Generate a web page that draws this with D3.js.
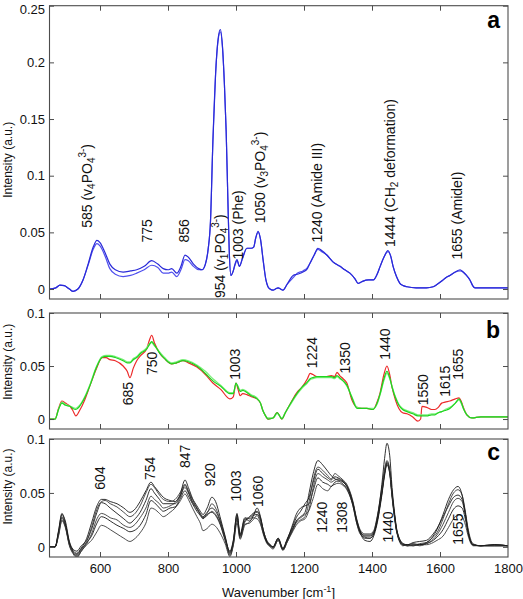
<!DOCTYPE html>
<html><head><meta charset="utf-8">
<script src="https://cdn.jsdelivr.net/npm/d3@7"></script>
<style>body{margin:0;background:#fff}svg{display:block}text{font-family:"Liberation Sans",Arial,sans-serif}</style>
</head><body><svg id="c" width="523" height="599"></svg>
<script>
// ---------- DATA ----------
const xTicks = [600, 800, 1000, 1200, 1400, 1600, 1800];
const yTicksA = [0, 0.05, 0.1, 0.15, 0.2, 0.25];
const yTicksB = [0, 0.05, 0.1];
const yTicksC = [0, 0.05, 0.1];

// Panel a (two blue spectra)
const waveA = [450,470,482,495,510,521,535,550,565,580,591,600,615,629,645,668,690,708,730,752,770,786,800,811,826,838,850,860,875,890,900,910,918,925,932,940,948,954,960,966,971,976,980,985,992,997,1003,1010,1020,1032,1045,1052,1058,1065,1072,1080,1088,1094,1100,1109,1116,1124,1131,1138,1150,1168,1180,1197,1210,1218,1230,1241,1252,1267,1285,1306,1320,1335,1350,1359,1367,1374,1390,1404,1415,1424,1435,1447,1455,1462,1472,1482,1492,1503,1530,1560,1580,1591,1605,1617,1629,1645,1659,1668,1678,1688,1696,1703,1720,1760,1800];
const blueUpper = [0,0.001,0.0035,0.003,0.000,-0.002,0.000,0.008,0.022,0.037,0.043,0.041,0.032,0.022,0.017,0.015,0.016,0.017,0.020,0.025,0.022,0.018,0.017,0.018,0.014,0.020,0.030,0.028,0.022,0.018,0.017,0.022,0.035,0.060,0.130,0.190,0.222,0.229,0.215,0.180,0.140,0.080,0.035,0.012,0.016,0.022,0.026,0.020,0.028,0.036,0.036,0.037,0.045,0.051,0.044,0.025,0.008,0.002,0.000,-0.001,0.000,0.001,0.000,-0.001,0.004,0.012,0.013,0.015,0.018,0.023,0.030,0.036,0.034,0.030,0.024,0.020,0.017,0.014,0.009,0.005,0.006,0.007,0.008,0.008,0.013,0.020,0.028,0.034,0.029,0.020,0.011,0.005,0.003,0.002,0.001,0.001,0.002,0.004,0.007,0.010,0.012,0.015,0.017,0.015,0.012,0.008,0.003,0.001,0.001,0.001,0.001];
const blueLower = [0,0.001,0.0035,0.003,0.000,-0.002,0.000,0.008,0.021,0.035,0.040,0.038,0.029,0.018,0.013,0.011,0.012,0.014,0.017,0.021,0.019,0.014,0.014,0.015,0.011,0.017,0.026,0.025,0.020,0.017,0.017,0.022,0.035,0.060,0.130,0.190,0.221,0.227,0.214,0.180,0.140,0.080,0.035,0.012,0.016,0.021,0.025,0.020,0.028,0.036,0.036,0.037,0.045,0.050,0.044,0.025,0.008,0.002,0.000,-0.001,0.000,0.001,0.000,-0.001,0.004,0.010,0.014,0.016,0.019,0.023,0.030,0.035,0.033,0.030,0.024,0.020,0.017,0.014,0.009,0.005,0.006,0.007,0.008,0.008,0.013,0.020,0.028,0.033,0.029,0.020,0.011,0.005,0.003,0.002,0.001,0.001,0.002,0.004,0.007,0.010,0.012,0.015,0.016,0.015,0.012,0.008,0.003,0.001,0.001,0.001,0.001];

// Panel b (red + two green spectra)
const waveB = [450,468,478,488,498,512,520,529,540,555,571,590,606,618,629,645,668,680,688,698,708,720,737,745,752,760,776,790,811,825,844,860,885,910,932,955,982,992,1000,1006,1012,1020,1032,1045,1062,1072,1079,1087,1094,1109,1121,1135,1145,1159,1179,1194,1210,1218,1226,1238,1252,1267,1280,1290,1297,1305,1315,1326,1341,1356,1370,1385,1403,1415,1424,1435,1444,1452,1459,1469,1479,1490,1503,1520,1535,1543,1547,1561,1575,1585,1595,1605,1615,1629,1645,1656,1662,1670,1679,1694,1720,1750,1780,1800];
const redB = [0,0,0.010,0.017,0.015,0.012,0.008,0.003,0.008,0.018,0.032,0.048,0.058,0.058,0.056,0.055,0.050,0.045,0.039,0.048,0.055,0.060,0.066,0.074,0.079,0.072,0.062,0.057,0.052,0.053,0.055,0.053,0.049,0.042,0.034,0.028,0.019,0.021,0.034,0.028,0.022,0.024,0.023,0.021,0.019,0.015,0.008,0.003,0.000,0.001,0.006,0.000,0.006,0.014,0.025,0.030,0.038,0.043,0.042,0.040,0.040,0.040,0.041,0.040,0.044,0.041,0.038,0.034,0.018,0.011,0.010,0.010,0.009,0.016,0.025,0.042,0.050,0.042,0.030,0.018,0.010,0.006,0.005,0.002,-0.002,0.000,0.012,0.011,0.009,0.009,0.011,0.015,0.016,0.017,0.019,0.020,0.017,0.010,0.004,0.001,0.002,0.002,0.002,0.002];
const greenB1 = [0,0,0.009,0.015,0.013,0.012,0.010,0.009,0.012,0.020,0.032,0.049,0.058,0.059,0.059,0.058,0.055,0.053,0.053,0.056,0.058,0.062,0.066,0.070,0.073,0.070,0.062,0.057,0.052,0.053,0.055,0.054,0.050,0.043,0.036,0.031,0.024,0.024,0.034,0.030,0.026,0.027,0.025,0.022,0.019,0.015,0.008,0.003,0.000,0.001,0.006,0.000,0.006,0.014,0.024,0.030,0.035,0.038,0.039,0.040,0.040,0.040,0.040,0.039,0.041,0.039,0.036,0.032,0.020,0.010,0.010,0.010,0.009,0.015,0.024,0.038,0.045,0.039,0.030,0.020,0.013,0.009,0.007,0.005,0.003,0.003,0.003,0.003,0.004,0.004,0.006,0.007,0.008,0.010,0.015,0.019,0.016,0.009,0.004,0.001,0.002,0.002,0.002,0.002];
const greenB2 = [0,0,0.009,0.016,0.014,0.012,0.011,0.010,0.013,0.021,0.033,0.050,0.059,0.060,0.060,0.059,0.056,0.054,0.054,0.057,0.059,0.063,0.067,0.071,0.072,0.069,0.063,0.058,0.053,0.054,0.056,0.055,0.051,0.045,0.038,0.032,0.025,0.025,0.033,0.031,0.027,0.028,0.026,0.023,0.020,0.015,0.008,0.003,0.001,0.001,0.005,0.001,0.006,0.013,0.023,0.029,0.034,0.037,0.038,0.039,0.039,0.039,0.039,0.038,0.040,0.038,0.036,0.031,0.021,0.011,0.010,0.010,0.010,0.014,0.023,0.036,0.043,0.038,0.031,0.021,0.014,0.010,0.008,0.006,0.004,0.004,0.004,0.004,0.005,0.005,0.006,0.007,0.009,0.011,0.015,0.018,0.015,0.009,0.004,0.001,0.002,0.002,0.002,0.002];

// Panel c (six black spectra)
const waveC = [450,468,478,488,498,510,520,532,545,561,575,591,604,615,630,650,670,688,700,718,735,750,760,775,786,806,821,835,850,860,872,885,895,903,915,929,940,953,968,982,992,1003,1012,1026,1040,1050,1062,1072,1080,1091,1100,1109,1124,1138,1150,1168,1177,1190,1203,1215,1227,1241,1255,1270,1280,1291,1300,1315,1326,1344,1355,1365,1379,1394,1405,1414,1429,1437,1444,1452,1459,1467,1473,1491,1505,1521,1540,1560,1580,1591,1609,1625,1640,1653,1665,1675,1682,1697,1720,1760,1800];
const blackC1 = [0,0,0.015,0.031,0.022,0.004,-0.003,-0.006,-0.001,0.008,0.022,0.038,0.044,0.044,0.042,0.040,0.036,0.032,0.034,0.042,0.052,0.060,0.056,0.050,0.046,0.043,0.042,0.048,0.062,0.055,0.045,0.038,0.033,0.030,0.036,0.046,0.042,0.028,0.010,-0.005,0.005,0.031,0.010,0.026,0.024,0.028,0.036,0.028,0.016,0.005,0.002,0.000,0.008,-0.002,0.006,0.018,0.024,0.028,0.032,0.050,0.068,0.080,0.076,0.070,0.066,0.063,0.062,0.060,0.056,0.040,0.025,0.015,0.010,0.010,0.013,0.024,0.058,0.082,0.096,0.085,0.055,0.030,0.016,0.003,0.002,0.003,0.002,0.004,0.010,0.016,0.030,0.044,0.053,0.056,0.048,0.030,0.015,0.002,0.001,0.002,0.001];
const blackC2 = [0,0,0.012,0.028,0.020,0.002,-0.005,-0.008,-0.003,0.005,0.018,0.035,0.042,0.043,0.040,0.037,0.032,0.028,0.030,0.038,0.050,0.058,0.055,0.048,0.044,0.042,0.044,0.050,0.058,0.052,0.044,0.036,0.030,0.027,0.031,0.040,0.036,0.025,0.009,-0.007,0.003,0.028,0.009,0.023,0.027,0.030,0.032,0.026,0.015,0.006,0.002,-0.001,0.007,-0.003,0.005,0.016,0.022,0.025,0.028,0.042,0.062,0.074,0.071,0.066,0.063,0.068,0.066,0.062,0.058,0.042,0.026,0.016,0.012,0.012,0.015,0.026,0.055,0.072,0.080,0.072,0.050,0.028,0.015,0.002,0.001,0.001,0.003,0.004,0.009,0.013,0.026,0.040,0.050,0.053,0.048,0.032,0.018,0.003,0.001,0.001,0.001];
const blackC3 = [0,0,0.014,0.030,0.024,0.005,-0.002,-0.004,0.001,0.006,0.016,0.032,0.041,0.040,0.036,0.031,0.026,0.022,0.025,0.032,0.043,0.054,0.050,0.044,0.040,0.040,0.040,0.046,0.057,0.051,0.042,0.036,0.031,0.028,0.032,0.036,0.033,0.024,0.008,-0.004,0.006,0.030,0.012,0.027,0.026,0.029,0.030,0.025,0.014,0.004,0.001,0.000,0.008,-0.001,0.007,0.020,0.027,0.033,0.040,0.046,0.060,0.072,0.068,0.064,0.062,0.065,0.064,0.061,0.057,0.041,0.024,0.014,0.008,0.008,0.012,0.022,0.050,0.068,0.078,0.070,0.048,0.027,0.014,0.002,0.002,0.004,0.005,0.006,0.012,0.017,0.028,0.038,0.046,0.048,0.044,0.030,0.016,0.002,0.001,0.002,0.001];
const blackC4 = [0,0,0.010,0.024,0.018,0.001,-0.006,-0.010,-0.004,0.003,0.012,0.026,0.031,0.030,0.027,0.025,0.020,0.018,0.020,0.027,0.036,0.047,0.044,0.040,0.036,0.038,0.041,0.047,0.055,0.050,0.041,0.035,0.030,0.027,0.029,0.033,0.030,0.022,0.007,-0.008,0.002,0.025,0.008,0.021,0.022,0.025,0.029,0.022,0.012,0.003,0.000,-0.002,0.006,-0.003,0.004,0.015,0.020,0.024,0.026,0.035,0.055,0.068,0.065,0.062,0.060,0.062,0.063,0.060,0.056,0.040,0.024,0.014,0.011,0.011,0.014,0.025,0.052,0.070,0.079,0.071,0.050,0.028,0.015,0.003,0.001,0.002,0.001,0.003,0.007,0.011,0.021,0.032,0.042,0.045,0.042,0.028,0.015,0.002,0.001,0.001,0.001];
const blackC5 = [0,0,0.013,0.027,0.020,0.003,-0.004,-0.007,-0.002,0.004,0.010,0.022,0.028,0.027,0.024,0.020,0.017,0.014,0.015,0.020,0.030,0.043,0.041,0.036,0.033,0.036,0.037,0.044,0.052,0.047,0.040,0.033,0.029,0.026,0.030,0.032,0.029,0.021,0.006,-0.006,0.004,0.027,0.011,0.024,0.028,0.031,0.033,0.027,0.016,0.005,0.002,0.000,0.007,-0.002,0.006,0.022,0.030,0.036,0.038,0.040,0.052,0.064,0.060,0.058,0.056,0.060,0.061,0.058,0.054,0.038,0.022,0.013,0.006,0.005,0.010,0.020,0.048,0.066,0.076,0.068,0.046,0.025,0.013,0.001,0.002,0.001,0.002,0.003,0.006,0.009,0.016,0.026,0.035,0.038,0.036,0.025,0.014,0.002,0.001,0.002,0.001];
const blackC6 = [0,0,0.011,0.025,0.019,0.002,-0.005,-0.009,-0.004,0.002,0.006,0.014,0.020,0.019,0.016,0.012,0.008,0.005,0.007,0.013,0.022,0.036,0.035,0.031,0.028,0.032,0.036,0.042,0.049,0.044,0.036,0.028,0.022,0.015,0.017,0.021,0.019,0.013,0.003,-0.009,0.001,0.022,0.007,0.020,0.023,0.027,0.026,0.021,0.013,0.004,0.001,-0.001,0.006,-0.003,0.004,0.017,0.023,0.027,0.030,0.034,0.045,0.058,0.054,0.052,0.056,0.058,0.059,0.057,0.053,0.038,0.022,0.012,0.009,0.008,0.012,0.022,0.050,0.068,0.077,0.069,0.048,0.026,0.014,0.002,0.001,0.002,0.002,0.002,0.004,0.006,0.010,0.018,0.026,0.030,0.028,0.020,0.011,0.001,0.001,0.001,0.001];

// Peak annotations: label parts, anchor wavenumber, anchor intensity
const annotA = [
  {parts:[["585 (v","n"],["4","sub"],["PO","n"],["4","sub"],["3-","sup"],[")","n"]], wn:562, v:0.054},
  {parts:[["775","n"]], wn:738, v:0.041},
  {parts:[["856","n"]], wn:847, v:0.041},
  {parts:[["954 (v","n"],["1","sub"],["PO","n"],["4","sub"],["3-","sup"],[")","n"]], wn:953, v:-0.008},
  {parts:[["1003 (Phe)","n"]], wn:1006, v:0.026},
  {parts:[["1050 (v","n"],["3","sub"],["PO","n"],["4","sub"],["3-","sup"],[")","n"]], wn:1071, v:0.058},
  {parts:[["1240 (Amide III)","n"]], wn:1238, v:0.041},
  {parts:[["1444 (CH","n"],["2","sub"],[" deformation)","n"]], wn:1453, v:0.037},
  {parts:[["1655 (AmideI)","n"]], wn:1650, v:0.026}
];
const annotB = [
  {parts:[["685","n"]], wn:682, v:0.013},
  {parts:[["750","n"]], wn:753, v:0.0415},
  {parts:[["1003","n"]], wn:997, v:0.037},
  {parts:[["1224","n"]], wn:1224, v:0.048},
  {parts:[["1350","n"]], wn:1321, v:0.043},
  {parts:[["1440","n"]], wn:1438, v:0.056},
  {parts:[["1550","n"]], wn:1550, v:0.013},
  {parts:[["1615","n"]], wn:1615, v:0.021},
  {parts:[["1655","n"]], wn:1653, v:0.037}
];
const annotC = [
  {parts:[["604","n"]], wn:600, v:0.053},
  {parts:[["754","n"]], wn:747, v:0.062},
  {parts:[["847","n"]], wn:850, v:0.073},
  {parts:[["920","n"]], wn:924, v:0.056},
  {parts:[["1003","n"]], wn:1000, v:0.042},
  {parts:[["1060","n"]], wn:1065, v:0.037},
  {parts:[["1240","n"]], wn:1253, v:0.013},
  {parts:[["1308","n"]], wn:1312, v:0.013},
  {parts:[["1440","n"]], wn:1447, v:0.004},
  {parts:[["1655","n"]], wn:1653, v:0.002}
];

// ---------- DRAW ----------
const svg = d3.select("#c");
const x = d3.scaleLinear().domain([450, 1800]).range([49, 508]);
const frameColor = "#4d4d4d";

const panels = [
  {id:"a", top:5.7, bottom:299, dom:[-0.0088, 0.25], ticks:yTicksA, wave:waveA, ylabV:0.114,
   series:[{v:blueLower,c:"#5050ee",w:1.2},{v:blueUpper,c:"#2a2ad8",w:1.2}], annot:annotA, letterBase:28},
  {id:"b", top:313, bottom:429, dom:[-0.0094, 0.1], ticks:yTicksB, wave:waveB, ylabV:0.054,
   series:[{v:redB,c:"#ec2a2a",w:1.2},{v:greenB2,c:"#7cf07c",w:1.2},{v:greenB1,c:"#1fd41f",w:1.2}], annot:annotB, letterBase:338},
  {id:"c", top:439, bottom:557, dom:[-0.0094, 0.1], ticks:yTicksC, wave:waveC, ylabV:0.056,
   series:[blackC6,blackC5,blackC4,blackC3,blackC2,blackC1].map((v,i)=>({v, c: i%2? "#1a1a1a":"#3a3a3a", w:0.9})), annot:annotC, letterBase:460, xlabels:true}
];

panels.forEach(p => {
  const y = d3.scaleLinear().domain(p.dom).range([p.bottom, p.top]);
  const g = svg.append("g");
  const clipId = "clip-" + p.id;
  svg.append("clipPath").attr("id", clipId).append("rect")
    .attr("x", x.range()[0]).attr("y", p.top).attr("width", x.range()[1]-x.range()[0]).attr("height", p.bottom-p.top);

  const line = d3.line().x(d => x(d[0])).y(d => y(d[1])).curve(d3.curveMonotoneX);
  const lg = g.append("g").attr("clip-path", `url(#${clipId})`);
  p.series.forEach(s => {
    lg.append("path").datum(p.wave.map((w,i)=>[w, s.v[i]]))
      .attr("d", line).attr("fill","none").attr("stroke", s.c).attr("stroke-width", s.w)
      .attr("stroke-linejoin","round");
  });

  // axes
  const fmt = d => d === 0 ? "0" : String(d);
  const left = g.append("g").attr("transform", `translate(${x.range()[0]},0)`)
    .call(d3.axisLeft(y).tickValues(p.ticks).tickSize(-5).tickSizeOuter(0).tickPadding(4).tickFormat(fmt));
  const right = g.append("g").attr("transform", `translate(${x.range()[1]},0)`)
    .call(d3.axisRight(y).tickValues(p.ticks).tickSize(-5).tickSizeOuter(0).tickFormat(""));
  const top = g.append("g").attr("transform", `translate(0,${p.top})`)
    .call(d3.axisTop(x).tickValues(xTicks.filter(t=>t<1800)).tickSize(-5).tickSizeOuter(0).tickFormat(""));
  const bottom = g.append("g").attr("transform", `translate(0,${p.bottom})`)
    .call(d3.axisBottom(x).tickValues(p.xlabels ? xTicks : xTicks.filter(t=>t<1800)).tickSize(-5).tickSizeOuter(0).tickPadding(7)
      .tickFormat(p.xlabels ? d3.format("d") : ""));
  [left,right,top,bottom].forEach(a => {
    a.select(".domain").remove();
    a.selectAll("line").attr("stroke", frameColor);
    a.selectAll("text").attr("font-size", 13).attr("fill", "#111")
      .attr("font-family", '"Liberation Sans", Arial, sans-serif');
  });
  bottom.selectAll("line").filter(d => d === 1800).remove();
  // keep the topmost y label fully inside the picture
  left.selectAll("text").filter(d => y(d) < 10).attr("dy", "0.62em");

  g.append("rect").attr("x", x.range()[0]+0.5).attr("y", p.top).attr("width", x.range()[1]-x.range()[0]-0.5)
    .attr("height", p.bottom - p.top).attr("fill","none").attr("stroke", frameColor).attr("stroke-width", 1.1);

  // y label
  g.append("text").attr("transform", `translate(12,${y(p.ylabV)}) rotate(-90)`)
    .attr("text-anchor","middle").attr("font-size", 12).attr("fill","#111").text("Intensity (a.u.)");

  // panel letter
  g.append("text").attr("x", 500).attr("y", p.letterBase).attr("text-anchor","end")
    .attr("font-size", 23).attr("font-weight","bold").attr("fill","#000").text(p.id);

  // annotations
  p.annot.forEach(a => {
    const t = g.append("text")
      .attr("transform", `translate(${x(a.wn)+5},${y(a.v)}) rotate(-90)`)
      .attr("font-size", 14).attr("fill", "#111");
    let cur = 0;
    a.parts.forEach(([txt, kind]) => {
      const target = kind === "sub" ? 3 : kind === "sup" ? -6 : 0;
      t.append("tspan").attr("dy", target - cur).attr("font-size", kind === "n" ? 14 : 10).text(txt);
      cur = target;
    });
  });
});

// x axis title
const xt = svg.append("text").attr("x", (x.range()[0]+x.range()[1])/2).attr("y", 597)
  .attr("text-anchor","middle").attr("font-size", 13).attr("fill","#111");
xt.append("tspan").text("Wavenumber [cm");
xt.append("tspan").attr("dy", -5).attr("font-size", 9).text("-1");
xt.append("tspan").attr("dy", 5).text("]");
</script>
</body></html>
